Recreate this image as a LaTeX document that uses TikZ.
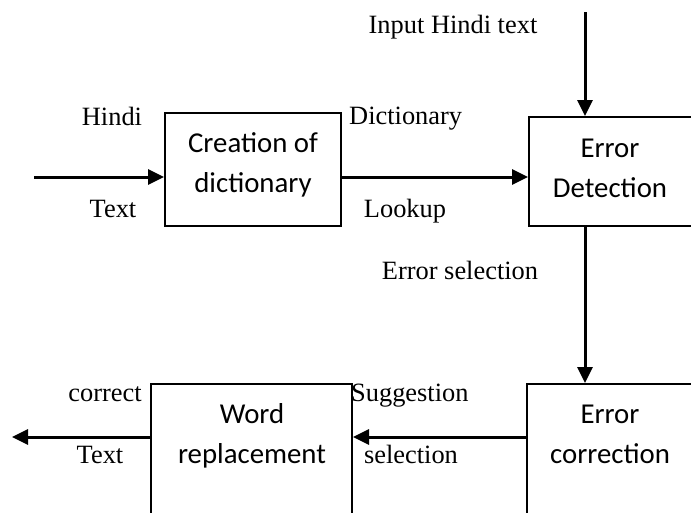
\documentclass[tikz,border=0pt]{standalone}
\usepackage{fontspec}
\setmainfont{Liberation Serif}
\newfontfamily\boxfont{Carlito}
\usetikzlibrary{arrows.meta}
\begin{document}
\begin{tikzpicture}[x=1pt,y=-1pt,
  lbl/.style={font=\fontsize{26.4}{30}\selectfont, inner sep=0pt, anchor=base},
  btxt/.style={font=\boxfont\fontsize{28.8}{34}\selectfont, inner sep=0pt, anchor=base},
  blk/.style={draw, line width=2pt, rectangle, inner sep=0pt},
  flow/.style={line width=3pt, -{Triangle[length=16pt,width=15pt]}}]
\useasboundingbox (0,0) rectangle (691,512);
\clip (0,0) rectangle (691,512);
% boxes
\node[blk, minimum width=176pt, minimum height=113pt] (b1) at (253,169.5) {};
\node[blk, minimum width=191pt, minimum height=109pt] (b2) at (624.5,171.5) {};
\node[blk, minimum width=193pt, minimum height=156pt] (b3) at (623.5,462) {};
\node[blk, minimum width=201pt, minimum height=156pt] (b4) at (251.5,462) {};
% box texts
\node[btxt] (t1a) at (253,152) {Creation of};
\node[btxt] (t1b) at (253,192) {dictionary};
\node[btxt] (t2a) at (610,157) {Error};
\node[btxt] (t2b) at (610,197) {Detection};
\node[btxt] (t3a) at (610,423) {Error};
\node[btxt] (t3b) at (610,463) {correction};
\node[btxt] (t4a) at (252,423) {Word};
\node[btxt] (t4b) at (252,463) {replacement};
% labels
\node[lbl] (l1) at (112,125) {Hindi};
\node[lbl] (l2) at (113,217) {Text};
\node[lbl] (l3) at (453,33) {Input Hindi text};
\node[lbl, anchor=base west] (l4) at (349,124) {Dictionary};
\node[lbl] (l5) at (405,217) {Lookup};
\node[lbl] (l6) at (460,279) {Error selection};
\node[lbl, anchor=base west] (l7) at (351,401) {Suggestion};
\node[lbl] (l8) at (411,463) {selection};
\node[lbl] (l9) at (105,401) {correct};
\node[lbl] (l10) at (100,463) {Text};
% connector ends
\coordinate (in1) at (34,177);
\coordinate (in2) at (585,12);
\coordinate (row2) at (0,437);
\coordinate (out) at (12,437);
% connectors
\draw[flow] (in1) -- (b1.west |- in1);
\draw[flow] (b1.east |- in1) -- (b2.west |- in1);
\draw[flow] (in2) -- (b2.north -| in2);
\draw[flow] (b2.south -| in2) -- (b3.north -| in2);
\draw[flow] (b3.west |- row2) -- (b4.east |- row2);
\draw[flow] (b4.west |- row2) -- (out);
\end{tikzpicture}
\end{document}
